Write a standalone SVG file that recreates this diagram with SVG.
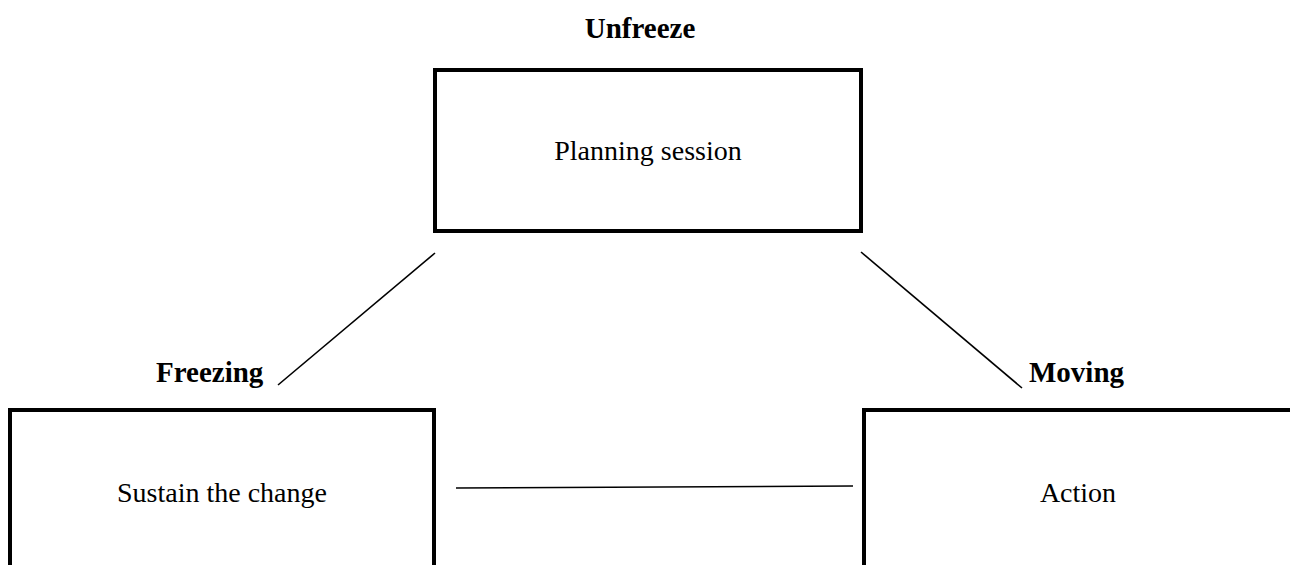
<svg xmlns="http://www.w3.org/2000/svg" width="1290" height="565" viewBox="0 0 1290 565">
<style>
.box{fill:#fff;stroke:#000;stroke-width:4}
.t{font-family:"Liberation Serif","Times New Roman",serif;font-size:28px;fill:#000;text-anchor:middle}
.b{font-family:"Liberation Serif","Times New Roman",serif;font-size:29px;font-weight:bold;fill:#000}
.c{stroke:#000;stroke-width:1.6;fill:none}
</style>
<rect width="1290" height="565" fill="#fff"/>
<g id="connectors">
<line class="c" x1="278" y1="385" x2="435" y2="253"/>
<line class="c" x1="861" y1="252" x2="1022" y2="388"/>
<line class="c" x1="456" y1="488" x2="853" y2="486"/>
</g>
<g id="unfreeze">
<text class="b" x="640" y="38" text-anchor="middle">Unfreeze</text>
<rect class="box" x="435" y="70" width="426" height="161"/>
<text class="t" x="648" y="160">Planning session</text>
</g>
<g id="freezing">
<text class="b" x="156" y="382">Freezing</text>
<rect class="box" x="10" y="410" width="424" height="170"/>
<text class="t" x="222" y="502">Sustain the change</text>
</g>
<g id="moving">
<text class="b" x="1029" y="382">Moving</text>
<rect class="box" x="864" y="410" width="440" height="170"/>
<text class="t" x="1078" y="502">Action</text>
</g>
</svg>
